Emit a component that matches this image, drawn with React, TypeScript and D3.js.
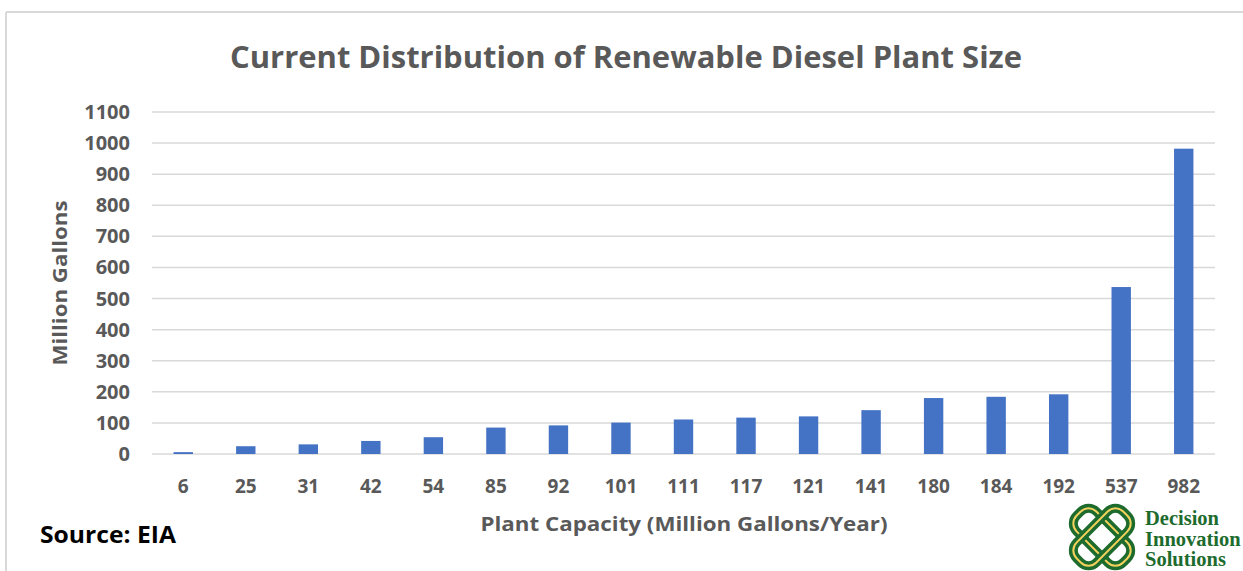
import React from "react";
import { scaleLinear, scaleBand } from "d3";

// plant capacity categories (x axis) and plant size values (million gallons)
const capacities = ["6", "25", "31", "42", "54", "85", "92", "101", "111", "117", "121", "141", "180", "184", "192", "537", "982"];
const plantSize = [6, 25, 31, 42, 54, 85, 92, 101, 111, 117, 121, 141, 180, 184, 192, 537, 982];
const yTicks = [0, 100, 200, 300, 400, 500, 600, 700, 800, 900, 1000, 1100];
const logoWords = ["Decision", "Innovation", "Solutions"];

const W = 1243;
const H = 571;
const plot = { left: 152, right: 1215, top: 112, bottom: 454 };
const grey = "#595959";
const gridColor = "#d9d9d9";
const barColor = "#4472c4";
const green = "#1e6b2e";
const font = "'Open Sans', 'Liberation Sans', sans-serif";

function Logo() {
  // two rounded loops crossing at 45deg, green with a yellow core
  const cx = 1102;
  const cy = 537;
  const loop = (angle: number, color: string, sw: number) => (
    <rect
      x={-33}
      y={-14}
      width={66}
      height={28}
      rx={11}
      fill="none"
      stroke={color}
      strokeWidth={sw}
      transform={`translate(${cx},${cy}) rotate(${angle})`}
    />
  );
  return (
    <g>
      {loop(45, green, 9)}
      {loop(45, "#f2d25c", 2)}
      {loop(-45, green, 9)}
      {loop(-45, "#f2d25c", 2)}
      {logoWords.map((t, i) => (
        <text
          key={t}
          x={1145}
          y={525 + i * 20.5}
          fontFamily="'Liberation Serif', 'DejaVu Serif', serif"
          fontWeight="bold"
          fontSize={20.5}
          fill={green}
        >
          {t}
        </text>
      ))}
    </g>
  );
}

export default function App() {
  const xScale = scaleBand<string>()
    .domain(capacities)
    .range([plot.left, plot.right])
    .paddingInner(0.69)
    .paddingOuter(0.345);
  const yScale = scaleLinear().domain([0, 1100]).range([plot.bottom, plot.top]);

  return (
    <svg
      width={W}
      height={H}
      style={{ position: "absolute", left: 0, top: 0, background: "#fff" }}
    >
      <rect x={0} y={0} width={W} height={H} fill="#fff" />
      {/* chart frame */}
      <line x1={6} x2={W} y1={12} y2={12} stroke={gridColor} strokeWidth={2} />
      <line x1={6} x2={6} y1={12} y2={H} stroke={gridColor} strokeWidth={2} />

      <text
        x={626}
        y={68}
        textAnchor="middle"
        fontFamily={font}
        fontWeight="bold"
        fontSize={30}
        fill={grey}
        textLength={792}
        lengthAdjust="spacingAndGlyphs"
      >
        Current Distribution of Renewable Diesel Plant Size
      </text>

      {/* gridlines and y ticks */}
      {yTicks.map((t) => (
        <g key={t} transform={`translate(0, ${yScale(t)})`}>
          <line x1={plot.left} x2={plot.right} stroke={gridColor} strokeWidth={1.5} />
          <text
            x={130}
            y={7}
            textAnchor="end"
            fontFamily={font}
            fontWeight="bold"
            fontSize={20}
            fill={grey}
          >
            {t}
          </text>
        </g>
      ))}

      {capacities.map((c, i) => (
        <rect
          key={c}
          x={xScale(c)}
          y={yScale(plantSize[i])}
          width={xScale.bandwidth()}
          height={yScale(0) - yScale(plantSize[i])}
          fill={barColor}
        />
      ))}

      {capacities.map((c) => (
        <text
          key={c + "l"}
          x={(xScale(c) ?? 0) + xScale.bandwidth() / 2}
          y={493}
          textAnchor="middle"
          fontFamily={font}
          fontWeight="bold"
          fontSize={19}
          fill={grey}
        >
          {c}
        </text>
      ))}

      <text
        transform="translate(67, 283) rotate(-90)"
        textAnchor="middle"
        fontFamily={font}
        fontWeight="bold"
        fontSize={20}
        fill={grey}
        textLength={165}
        lengthAdjust="spacingAndGlyphs"
      >
        Million Gallons
      </text>

      <text
        x={684}
        y={531}
        textAnchor="middle"
        fontFamily={font}
        fontWeight="bold"
        fontSize={20}
        fill={grey}
        textLength={407}
        lengthAdjust="spacingAndGlyphs"
      >
        Plant Capacity (Million Gallons/Year)
      </text>

      <text
        x={40}
        y={543}
        fontFamily={font}
        fontWeight="bold"
        fontSize={23}
        fill="#000"
        textLength={136}
        lengthAdjust="spacingAndGlyphs"
      >
        Source: EIA
      </text>

      <Logo />
    </svg>
  );
}
